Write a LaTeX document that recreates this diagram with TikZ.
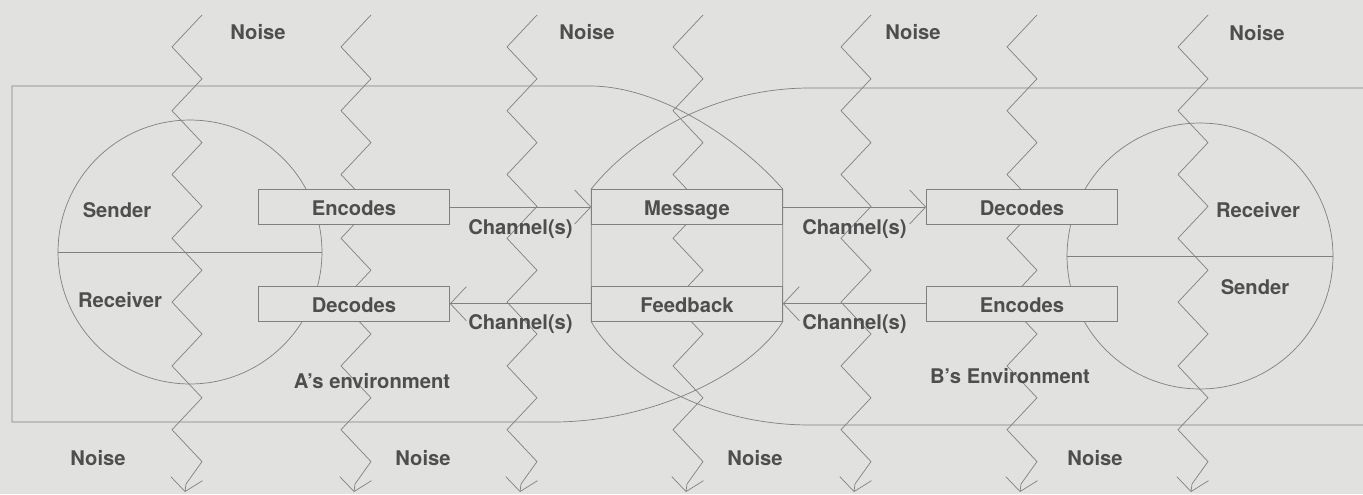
\documentclass[tikz,border=0pt]{standalone}
\usepackage{fontspec}
\setmainfont{TeX Gyre Heros}
\usetikzlibrary{arrows.meta}
\usetikzlibrary{positioning}
\definecolor{paper}{RGB}{225,225,223}
\definecolor{ink}{RGB}{128,128,128}
\definecolor{letter}{RGB}{78,78,78}
\tikzset{x=0.02cm, y=-0.02cm, line width=1pt, font=\bfseries\fontsize{11.5}{12}\selectfont}
\tikzset{every node/.style={text=letter}}
\tikzstyle{box} = [draw=ink, fill=paper, rectangle, minimum width=3.82cm, minimum height=0.7cm, inner sep=0pt, text height=1em, text depth=0pt]
\tikzstyle{person} = [draw=ink, circle, inner sep=0pt]
\tikzstyle{env} = [draw=ink]
\tikzstyle{noise} = [draw=ink, -{Straight Barb[length=0.26cm,width=0.64cm]}]
\tikzstyle{channel} = [draw=ink, -{Straight Barb[length=0.32cm,width=0.68cm]}]

\begin{document}
\begin{tikzpicture}
			\fill [paper] (0,0) rectangle (1363,494);
			\useasboundingbox (0,0) rectangle (1363,494);

			% sender and receiver
			\node [person, minimum size=5.28cm] (circ_a) at (190,252) {};
			\node [person, minimum size=5.32cm] (circ_b) at (1200,256) {};
			\draw [env] (circ_a.west) -- (circ_a.east);
			\draw [env] (circ_b.west) -- (circ_b.east);

			% noise lines
			\foreach \nx in {172,341,507,673,841,1007,1178}
				\draw [noise] (\nx+30,15) \foreach \k in {1,...,14} {-- ({\nx+30*mod(\k+1,2)},{15+31.9*\k})} -- (\nx+14,484) -- (\nx+13,492);

			\node [box] (enc_a) at (354,207) {Encodes};
			\node [box, below=1.22cm of enc_a] (dec_a) {Decodes};
			\node [box] (msg) at (687,207) {Message};
			\node [box, below=1.22cm of msg] (fb) {Feedback};
			\node [box] (dec_b) at (1022,207) {Decodes};
			\node [box, below=1.22cm of dec_b] (enc_b) {Encodes};

			% environments
			\draw [env] (12,86) -- (590,86) .. controls (660,86) and (740,140) .. (msg.north east) -- (fb.south east) .. controls (752,372) and (655,422) .. (553,422) -- (12,422) -- cycle;
			\draw [env] (1363,88) -- (810,88) .. controls (710,88) and (630,140) .. (msg.north west) -- (fb.south west) .. controls (617,368) and (700,425) .. (810,425) -- (1363,425);

			\draw [channel] (enc_a) -- node[below, yshift=-0.12cm] {Channel(s)} (msg);
			\draw [channel] (msg) -- node[below, yshift=-0.12cm] {Channel(s)} (dec_b);
			\draw [channel] (fb) -- node[below, yshift=-0.1cm] {Channel(s)} (dec_a);
			\draw [channel] (enc_b) -- node[below, yshift=-0.1cm] {Channel(s)} (fb);

			\node (send_a) at (117,210) {Sender};
			\node (recv_a) at (120,300) {Receiver};
			\node (recv_b) at (1258,210) {Receiver};
			\node (send_b) at (1255,287) {Sender};
			\node (env_a) at (372,381) {A's environment};
			\node (env_b) at (1010,376) {B's Environment};

			\foreach \nx/\ny [count=\i] in {258/32,587/32,913/32,1257/33,98/458,423/458,755/458,1095/458}
				\node (noise_\i) at (\nx,\ny) {Noise};
		\end{tikzpicture}
\end{document}
